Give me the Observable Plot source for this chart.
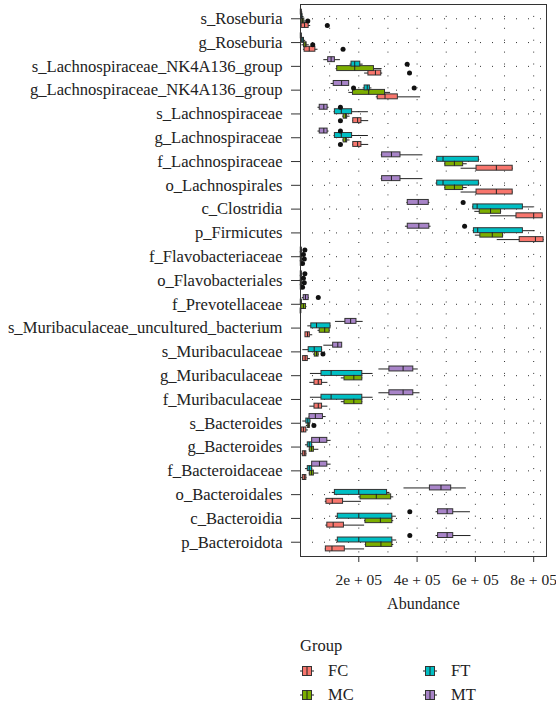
<!DOCTYPE html>
<html><head><meta charset="utf-8">
<script src="https://cdn.jsdelivr.net/npm/d3@7"></script>
<script src="https://cdn.jsdelivr.net/npm/@observablehq/plot@0.6"></script>
<style>
body{margin:0;background:#fff;font-family:'Liberation Serif',serif;}
#wrap{position:relative;width:556px;height:709px;}
.lg{position:absolute;font-size:16.5px;line-height:20px;color:#222;white-space:nowrap;font-family:'Liberation Serif',serif;}
.key{position:absolute;}
</style></head><body><div id="wrap"><div id="chart"></div><div id="legend"></div></div>
<script>
const categories = [
  "s_Roseburia","g_Roseburia","s_Lachnospiraceae_NK4A136_group","g_Lachnospiraceae_NK4A136_group",
  "s_Lachnospiraceae","g_Lachnospiraceae","f_Lachnospiraceae","o_Lachnospirales","c_Clostridia",
  "p_Firmicutes","f_Flavobacteriaceae","o_Flavobacteriales","f_Prevotellaceae",
  "s_Muribaculaceae_uncultured_bacterium","s_Muribaculaceae","g_Muribaculaceae","f_Muribaculaceae",
  "s_Bacteroides","g_Bacteroides","f_Bacteroidaceae","o_Bacteroidales","c_Bacteroidia","p_Bacteroidota"
];
const groups = ["FC","MC","FT","MT"];
const colors = ["#F8766D","#7CAE00","#00BFC4","#A884C8"];
// box stats per category, units of 1e5: [lower whisker, q1, median, q3, upper whisker]
const FC = [
  [0.01,0.04,0.14,0.28,0.35],[0.1,0.14,0.3,0.51,0.6],[2.2,2.33,2.57,2.77,2.82],[2.6,2.65,2.9,3.34,4.12],
  [1.8,1.81,1.96,2.09,2.34],[1.8,1.81,1.96,2.09,2.34],[5.51,6.04,6.72,7.28,7.3],[5.51,6.04,6.72,7.28,7.3],
  [6.52,7.41,8.0,8.31,8.33],[6.75,7.52,8.06,8.34,8.36],[0,0.01,0.02,0.03,0.05],[0,0.01,0.02,0.03,0.05],
  [0,0.005,0.01,0.02,0.03],[0.17,0.17,0.24,0.32,0.42],[0.08,0.09,0.16,0.25,0.34],[0.32,0.48,0.61,0.74,0.94],
  [0.32,0.48,0.61,0.74,0.94],[0.01,0.04,0.1,0.2,0.27],[0.04,0.08,0.13,0.2,0.22],[0.04,0.08,0.13,0.2,0.22],
  [0.85,0.89,1.09,1.46,2.09],[0.87,0.92,1.12,1.49,2.2],[0.85,0.87,1.08,1.52,2.2]
];
const MC = [
  [0.01,0.04,0.07,0.13,0.2],[0.05,0.12,0.16,0.21,0.3],[1.22,1.26,1.86,2.52,2.8],[1.66,1.8,2.34,2.9,3.09],
  [1.45,1.48,1.55,1.6,1.7],[1.45,1.48,1.55,1.6,1.7],[4.95,4.97,5.28,5.58,5.72],[4.95,4.97,5.28,5.58,5.72],
  [5.98,6.15,6.52,6.88,6.9],[6.0,6.17,6.58,6.95,6.97],[0,0.01,0.02,0.04,0.06],[0,0.01,0.02,0.04,0.06],
  [0.01,0.03,0.1,0.19,0.22],[0.6,0.66,0.83,1.0,1.02],[0.45,0.49,0.55,0.62,0.65],[1.4,1.51,1.83,2.12,2.14],
  [1.4,1.51,1.83,2.12,2.14],[0.2,0.25,0.28,0.32,0.34],[0.3,0.32,0.38,0.46,0.63],[0.3,0.32,0.38,0.46,0.63],
  [2.0,2.06,2.6,3.11,3.2],[2.2,2.23,2.74,3.15,3.2],[2.22,2.25,2.76,3.15,3.2]
];
const FT = [
  [0,0.02,0.04,0.07,0.12],[0.01,0.05,0.08,0.12,0.18],[1.7,1.75,1.86,2.05,2.15],[2.15,2.2,2.29,2.38,2.45],
  [1.15,1.18,1.4,1.77,2.33],[1.15,1.18,1.4,1.77,2.33],[4.65,4.69,4.89,6.12,6.15],[4.65,4.69,4.89,6.12,6.15],
  [5.9,5.93,6.06,7.63,8.0],[5.92,5.95,6.08,7.63,8.05],[0,0.01,0.02,0.03,0.05],[0,0.01,0.02,0.03,0.05],
  [0,0.01,0.02,0.04,0.06],[0.25,0.37,0.55,1.03,1.05],[0.08,0.28,0.47,0.74,0.76],[0.34,0.72,1.05,2.12,2.49],
  [0.34,0.72,1.05,2.12,2.49],[0.08,0.2,0.25,0.34,0.36],[0.17,0.25,0.3,0.4,0.42],[0.17,0.25,0.3,0.4,0.42],
  [1.09,1.18,2.0,2.97,3.07],[1.2,1.28,2.0,3.15,3.29],[1.2,1.28,2.0,3.15,3.3]
];
const MT = [
  [0,0.01,0.02,0.04,0.08],[0,0.01,0.02,0.04,0.06],[0.8,0.95,1.05,1.18,1.37],[1.05,1.14,1.41,1.67,1.67],
  [0.6,0.66,0.8,0.93,0.98],[0.6,0.66,0.8,0.93,0.98],[2.77,2.8,3.12,3.43,4.2],[2.77,2.8,3.12,3.43,4.2],
  [3.65,3.68,4.04,4.4,4.44],[3.6,3.68,4.06,4.42,4.48],[0,0.01,0.02,0.04,0.07],[0,0.01,0.02,0.04,0.07],
  [0.06,0.11,0.17,0.28,0.3],[1.2,1.54,1.72,1.92,2.15],[0.8,1.12,1.28,1.43,1.43],[2.69,3.05,3.52,3.87,4.04],
  [2.69,3.05,3.52,3.87,4.1],[0.3,0.31,0.51,0.77,0.88],[0.4,0.4,0.65,0.92,1.05],[0.4,0.4,0.65,0.92,1.05],
  [3.55,4.44,4.82,5.17,5.69],[4.65,4.72,5.03,5.24,5.83],[4.65,4.72,5.03,5.24,5.85]
];
// outliers: [category, group, value (1e5)]
const outliers = [
  ["s_Roseburia","MC",0.25],["s_Roseburia","FC",0.92],
  ["g_Roseburia","MC",0.42],["g_Roseburia","FC",1.46],
  ["s_Lachnospiraceae_NK4A136_group","FT",3.66],["s_Lachnospiraceae_NK4A136_group","FC",3.74],
  ["g_Lachnospiraceae_NK4A136_group","FT",1.82],["g_Lachnospiraceae_NK4A136_group","FT",3.9],
  ["s_Lachnospiraceae","MT",1.37],["s_Lachnospiraceae","FC",1.37],
  ["g_Lachnospiraceae","MT",1.37],["g_Lachnospiraceae","FC",1.37],
  ["c_Clostridia","MT",5.58],["p_Firmicutes","MT",5.63],
  ["f_Flavobacteriaceae","MT",0.15],["f_Flavobacteriaceae","FT",0.1],["f_Flavobacteriaceae","MC",0.13],["f_Flavobacteriaceae","FC",0.07],
  ["o_Flavobacteriales","MT",0.15],["o_Flavobacteriales","FT",0.1],["o_Flavobacteriales","MC",0.13],["o_Flavobacteriales","FC",0.07],
  ["f_Prevotellaceae","MT",0.61],["s_Muribaculaceae","MC",0.77],["s_Bacteroides","MC",0.46],
  ["c_Bacteroidia","MT",3.75],["p_Bacteroidota","MT",3.75]
];
const xTicks = [2, 4, 6, 8];
const UNIT = 1e5;

const stats = {FC, MC, FT, MT};
const dodge = 0.75 / groups.length;
const pos = (ci, g) => ci + (1.5 - groups.indexOf(g)) * dodge;
const rows = [];
groups.forEach(g => stats[g].forEach((s, ci) => rows.push({
  group: g, y: pos(ci, g), lo: s[0]*UNIT, q1: s[1]*UNIT, med: s[2]*UNIT, q3: s[3]*UNIT, hi: s[4]*UNIT
})));
const outs = outliers.map(([c, g, v]) => ({group: g, y: pos(categories.indexOf(c), g), x: v*UNIT}));
const half = dodge / 2 + 0.01;
const n = categories.length;

const chart = Plot.plot({
  width: 556, height: 620,
  marginTop: 4, marginBottom: 64, marginLeft: 300, marginRight: 10,
  style: {fontFamily: "'Liberation Serif', serif", fontSize: "16px", color: "#222", background: "#fff"},
  x: {domain: [0, 8.44*UNIT]},
  y: {domain: [n - 1 + 0.6, -0.6]},
  color: {domain: groups, range: colors},
  marks: [
    Plot.ruleX(d3.range(1, 9).map(d => d*UNIT), {stroke: "#333", strokeDasharray: "1,10.9"}),
    Plot.ruleY(d3.range(n), {stroke: "#333", strokeDasharray: "1,11"}),
    Plot.ruleY(rows, {y: "y", x1: "lo", x2: "hi", stroke: "#222", strokeWidth: 1}),
    Plot.rect(rows, {x1: "q1", x2: "q3", y1: d => d.y - half, y2: d => d.y + half, fill: "group", stroke: "#333", strokeWidth: 1}),
    Plot.ruleX(rows, {x: "med", y1: d => d.y - half, y2: d => d.y + half, stroke: "#222", strokeWidth: 1}),
    Plot.dot(outs, {x: "x", y: "y", r: 2.5, fill: "#111", stroke: null}),
    Plot.frame({stroke: "#333"}),
    Plot.axisY(d3.range(n), {tickFormat: i => categories[i], tickSize: 9, tickPadding: 9, label: null, fontSize: 16.6, stroke: "#333"}),
    Plot.axisX(xTicks.map(d => d*UNIT), {tickFormat: d => `${d/UNIT}e + 05`, tickSize: 6, tickPadding: 11, label: null, fontSize: 15.5, stroke: "#333"}),
    Plot.text(["Abundance"], {frameAnchor: "bottom", dy: 52, fontSize: 16, fill: "#222"})
  ]
});
document.getElementById("chart").appendChild(chart);

// legend
const lg = document.getElementById("legend");
let html = `<div class="lg" style="left:300px;top:636px">Group</div>`;
const colX = [300, 423], rowY = [671, 695];
groups.forEach((g, i) => {
  const col = Math.floor(i / 2), row = i % 2;
  const x = colX[col], y = rowY[row];
  html += `<svg class="key" width="14" height="10" style="left:${x}px;top:${y-5}px">
    <line x1="0" x2="14" y1="5" y2="5" stroke="#222"/>
    <rect x="2.5" y="0.5" width="9" height="9" fill="${colors[i]}" stroke="#333"/>
    <line x1="7" x2="7" y1="0.5" y2="9.5" stroke="#222"/></svg>`;
  html += `<div class="lg" style="left:${x+28}px;top:${y-10}px">${g}</div>`;
});
lg.innerHTML = html;
</script></body></html>
